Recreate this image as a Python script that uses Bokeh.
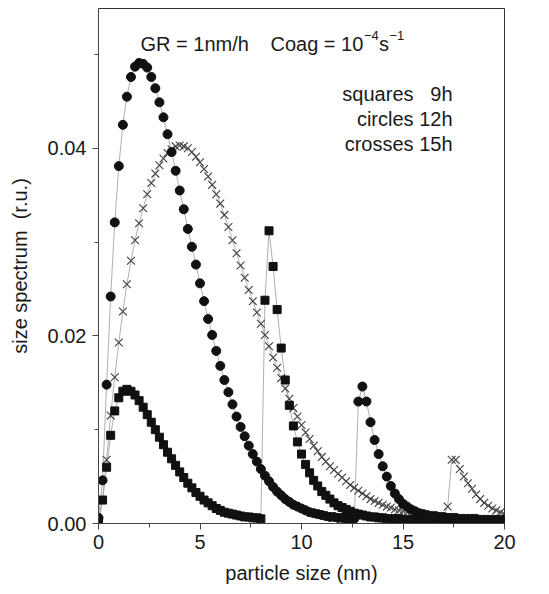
from bokeh.plotting import figure
from bokeh.models import FixedTicker, NumeralTickFormatter, Label, Range1d
from bokeh.embed import file_html
from bokeh.resources import INLINE

# particle size grid (nm)
size_nm = [
    0.0, 0.2, 0.4, 0.6, 0.8, 1.0, 1.2, 1.4, 1.6, 1.8,
    2.0, 2.2, 2.4, 2.6, 2.8, 3.0, 3.2, 3.4, 3.6, 3.8,
    4.0, 4.2, 4.4, 4.6, 4.8, 5.0, 5.2, 5.4, 5.6, 5.8,
    6.0, 6.2, 6.4, 6.6, 6.8, 7.0, 7.2, 7.4, 7.6, 7.8,
    8.0, 8.2, 8.4, 8.6, 8.8, 9.0, 9.2, 9.4, 9.6, 9.8,
    10.0, 10.2, 10.4, 10.6, 10.8, 11.0, 11.2, 11.4, 11.6, 11.8,
    12.0, 12.2, 12.4, 12.6, 12.8, 13.0, 13.2, 13.4, 13.6, 13.8,
    14.0, 14.2, 14.4, 14.6, 14.8, 15.0, 15.2, 15.4, 15.6, 15.8,
    16.0, 16.2, 16.4, 16.6, 16.8, 17.0, 17.2, 17.4, 17.6, 17.8,
    18.0, 18.2, 18.4, 18.6, 18.8, 19.0, 19.2, 19.4, 19.6, 19.8,
    20.0,
]

# squares: 9h
spec_9h = [
    0.0003, 0.0025, 0.0060, 0.0094, 0.0120, 0.0134, 0.0141, 0.0143, 0.0141, 0.0137,
    0.0131, 0.0124, 0.0116, 0.0108, 0.0100, 0.0092, 0.0084, 0.0076, 0.0069, 0.0062,
    0.0055, 0.0049, 0.0043, 0.0038, 0.0033, 0.0029, 0.0025, 0.0022, 0.0019, 0.0016,
    0.0014, 0.0012, 0.0011, 0.0010, 0.0009, 0.0008, 0.0007, 0.0007, 0.0006, 0.0006,
    0.0005, 0.0238, 0.0312, 0.0274, 0.0228, 0.0187, 0.0153, 0.0126, 0.0104, 0.0087,
    0.0074, 0.0063, 0.0054, 0.0046, 0.0040, 0.0034, 0.0030, 0.0026, 0.0022, 0.0019,
    0.0017, 0.0015, 0.0013, 0.0011, 0.0010, 0.0009, 0.0008, 0.0007, 0.0007, 0.0006,
    0.0006, 0.0005, 0.0005, 0.0005, 0.0005, 0.0004, 0.0004, 0.0004, 0.0004, 0.0004,
    0.0004, 0.0004, 0.0004, 0.0003, 0.0003, 0.0003, 0.0003, 0.0003, 0.0003, 0.0003,
    0.0003, 0.0003, 0.0003, 0.0003, 0.0003, 0.0003, 0.0003, 0.0003, 0.0003, 0.0003,
    0.0003,
]

# circles: 12h
spec_12h = [
    0.0006, 0.0046, 0.0148, 0.0242, 0.0321, 0.0381, 0.0425, 0.0455, 0.0476, 0.0487,
    0.0491, 0.0490, 0.0486, 0.0476, 0.0464, 0.0449, 0.0433, 0.0415, 0.0396, 0.0376,
    0.0355, 0.0335, 0.0314, 0.0295, 0.0276, 0.0256, 0.0237, 0.0218, 0.0201, 0.0184,
    0.0168, 0.0153, 0.0140, 0.0127, 0.0114, 0.0103, 0.0093, 0.0083, 0.0074, 0.0066,
    0.0058, 0.0051, 0.0045, 0.0039, 0.0034, 0.0030, 0.0026, 0.0023, 0.0020, 0.0018,
    0.0016, 0.0014, 0.0012, 0.0011, 0.0010, 0.0009, 0.0008, 0.0007, 0.0007, 0.0006,
    0.0006, 0.0005, 0.0005, 0.0005, 0.0130, 0.0146, 0.0130, 0.0108, 0.0089, 0.0074,
    0.0061, 0.0050, 0.0040, 0.0032, 0.0026, 0.0021, 0.0018, 0.0015, 0.0013, 0.0011,
    0.0010, 0.0009, 0.0008, 0.0008, 0.0007, 0.0007, 0.0006, 0.0006, 0.0006, 0.0005,
    0.0005, 0.0005, 0.0005, 0.0005, 0.0004, 0.0004, 0.0004, 0.0004, 0.0004, 0.0004,
    0.0004,
]

# crosses: 15h
spec_15h = [
    0.0000, 0.0025, 0.0068, 0.0115, 0.0156, 0.0193, 0.0226, 0.0255, 0.0280, 0.0302,
    0.0320, 0.0336, 0.0351, 0.0363, 0.0373, 0.0382, 0.0389, 0.0395, 0.0399, 0.0402,
    0.0403, 0.0402, 0.0400, 0.0396, 0.0391, 0.0385, 0.0378, 0.0370, 0.0361, 0.0351,
    0.0341, 0.0329, 0.0316, 0.0302, 0.0288, 0.0275, 0.0262, 0.0249, 0.0237, 0.0225,
    0.0213, 0.0201, 0.0189, 0.0177, 0.0166, 0.0155, 0.0144, 0.0133, 0.0123, 0.0114,
    0.0105, 0.0097, 0.0090, 0.0083, 0.0077, 0.0071, 0.0066, 0.0061, 0.0057, 0.0053,
    0.0049, 0.0045, 0.0041, 0.0038, 0.0035, 0.0032, 0.0029, 0.0026, 0.0024, 0.0022,
    0.0020, 0.0018, 0.0017, 0.0015, 0.0014, 0.0013, 0.0012, 0.0011, 0.0010, 0.0009,
    0.0009, 0.0008, 0.0008, 0.0007, 0.0007, 0.0007, 0.0018, 0.0068, 0.0068, 0.0058,
    0.0050, 0.0043, 0.0037, 0.0031, 0.0026, 0.0022, 0.0019, 0.0016, 0.0014, 0.0012,
    0.0010,
]

x_ticks = [0, 5, 10, 15, 20]
x_minor = [2.5, 7.5, 12.5, 17.5]
y_ticks = [0.0, 0.02, 0.04]
y_minor = [0.01, 0.03, 0.05]

FONT = "Liberation Sans"
TXT = "#1a1a1a"

X0, X1 = 0.0, 20.0
Y0, Y1 = 0.0, 0.0549
W, H = 549, 594
BL, BR, BT, BB = 98, 45, 8, 71

p = figure(width=W, height=H, output_backend="svg", toolbar_location=None,
           x_range=Range1d(X0, X1), y_range=Range1d(Y0, Y1),
           min_border_left=BL, min_border_right=BR,
           min_border_top=BT, min_border_bottom=BB)

p.grid.visible = False
p.outline_line_color = "#333333"
p.outline_line_width = 1
p.background_fill_color = "white"
p.border_fill_color = "white"

p.xaxis.ticker = FixedTicker(ticks=x_ticks, minor_ticks=x_minor)
p.yaxis.ticker = FixedTicker(ticks=y_ticks, minor_ticks=y_minor)
p.yaxis.formatter = NumeralTickFormatter(format="0.00")

for ax in (p.xaxis[0], p.yaxis[0]):
    ax.major_tick_in = 0
    ax.major_tick_out = 6
    ax.minor_tick_in = 0
    ax.minor_tick_out = 4
    ax.axis_line_color = "#444444"
    ax.major_tick_line_color = "#444444"
    ax.minor_tick_line_color = "#444444"
    ax.major_label_text_font = FONT
    ax.major_label_text_font_size = "20px"
    ax.major_label_text_color = TXT
    ax.axis_label_text_font = FONT
    ax.axis_label_text_font_size = "20px"
    ax.axis_label_text_font_style = "normal"
    ax.axis_label_text_color = TXT

p.xaxis.axis_label = "particle size (nm)"
p.xaxis.major_label_standoff = 5
p.xaxis.axis_label_standoff = 10
p.yaxis.axis_label = "size spectrum\u00a0 (r.u.)"
p.yaxis.major_label_standoff = 6
p.yaxis.axis_label_standoff = 14

LINE = "#9a9a9a"
p.line(size_nm, spec_15h, line_color=LINE, line_width=0.8)
p.line(size_nm, spec_9h, line_color=LINE, line_width=0.8)
p.line(size_nm, spec_12h, line_color=LINE, line_width=0.8)

p.scatter(size_nm, spec_15h, marker="x", size=11, line_color="#404040", line_width=1.1)
p.scatter(size_nm, spec_9h, marker="square", size=8, fill_color="#111111", line_color="#111111")
p.scatter(size_nm, spec_12h, marker="circle", size=9, fill_color="#111111", line_color="#111111")

# helpers converting canvas pixel positions of annotations into data space
fw = W - BL - BR
fh = H - BT - BB
def px_x(px):
    return X0 + (px - BL) / fw * (X1 - X0)
def px_y(py):
    return Y0 + (BT + fh - py) / fh * (Y1 - Y0)

def add_label(text, px, py, size="20px", align="left"):
    p.add_layout(Label(x=px_x(px), y=px_y(py), text=text, text_font=FONT,
                       text_font_size=size, text_color=TXT,
                       text_align=align, text_baseline="alphabetic"))

# header: GR = 1nm/h    Coag = 10^-4 s^-1
add_label("GR = 1nm/h", 140, 43)
add_label("Coag = 10", 270, 43)
add_label("\u22124", 363.5, 35, size="13px")
add_label("s", 378.5, 43)
add_label("\u22121", 389, 35, size="13px")

# series key
add_label("squares", 413, 93, align="right")
add_label("9h", 452, 93, align="right")
add_label("circles 12h", 452, 118, align="right")
add_label("crosses 15h", 452, 143, align="right")

open("out.html", "w").write(file_html(p, INLINE))
